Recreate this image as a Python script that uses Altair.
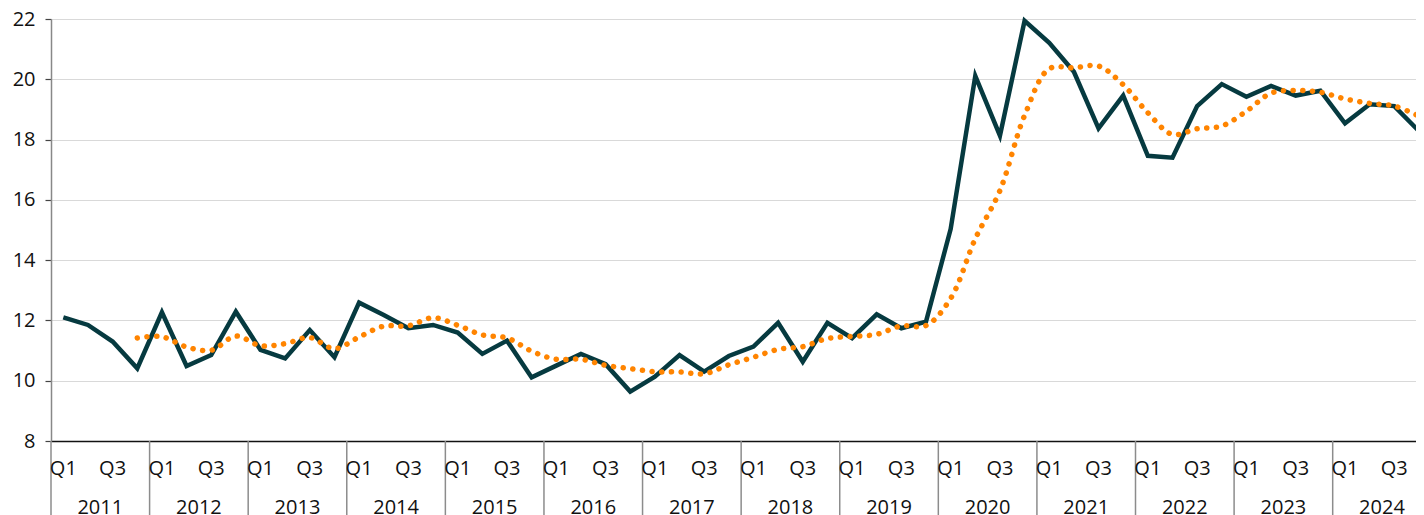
import altair as alt
import pandas as pd

years = [str(y) for y in range(2011, 2025)]
quarter_labels = ["Q1", "", "Q3", ""]

quarterly = [12.10, 11.85, 11.30, 10.41, 12.27, 10.49, 10.85, 12.29, 11.02, 10.74,
             11.68, 10.78, 12.59, 12.18, 11.74, 11.85, 11.60, 10.89, 11.33, 10.11,
             10.50, 10.89, 10.55, 9.64, 10.13, 10.85, 10.30, 10.82, 11.13, 11.92,
             10.63, 11.92, 11.41, 12.20, 11.74, 11.96, 15.03, 20.11, 18.13, 21.94,
             21.21, 20.25, 18.37, 19.46, 17.46, 17.40, 19.11, 19.84, 19.42, 19.78,
             19.46, 19.62, 18.54, 19.17, 19.11, 18.28]

avg4 = [None, None, None, 11.42, 11.46, 11.12, 11.01, 11.48, 11.16, 11.23,
        11.43, 11.06, 11.45, 11.81, 11.82, 12.09, 11.84, 11.52, 11.42, 10.98,
        10.71, 10.71, 10.51, 10.40, 10.30, 10.29, 10.23, 10.53, 10.78, 11.04,
        11.13, 11.40, 11.47, 11.54, 11.82, 11.83, 12.73, 14.71, 16.31, 18.80,
        20.35, 20.38, 20.44, 19.82, 18.89, 18.17, 18.36, 18.45, 18.94, 19.54,
        19.63, 19.57, 19.35, 19.20, 19.11, 18.78]

y_ticks = [8, 10, 12, 14, 16, 18, 20, 22]

n = len(quarterly)
df = pd.DataFrame({"i": list(range(n)), "q": quarterly, "a": avg4})
df_avg = df.dropna(subset=["a"])

qlab = pd.DataFrame({"i": list(range(n)),
                     "lab": [quarter_labels[k % 4] for k in range(n)]})
qlab = qlab[qlab["lab"] != ""]
ylab = pd.DataFrame({"c": [4 * k + 1.5 for k in range(len(years))], "lab": years})
seps = pd.DataFrame({"s": [4 * k - 0.5 for k in range(len(years) + 1)]})

xscale = alt.Scale(domain=[-0.5, 54.88], nice=False, zero=False)
yscale = alt.Scale(domain=[8, 22], nice=False, zero=False)

FONT = "Open Sans"

base_line = alt.Chart(df).mark_line(color="#063a40", strokeWidth=4.5, strokeJoin="miter").encode(
    x=alt.X("i:Q", scale=xscale,
            axis=alt.Axis(labels=False, ticks=False, grid=False, title=None,
                          domainColor="#111111", domainWidth=1.5)),
    y=alt.Y("q:Q", scale=yscale,
            axis=alt.Axis(values=y_ticks, title=None, grid=True, gridColor="#d9d9d9",
                          gridWidth=1, domainColor="#888888", domainWidth=1.5,
                          tickColor="#444444", tickSize=6, tickWidth=1.2,
                          labelFontSize=20, labelFont=FONT, labelColor="#111111",
                          labelPadding=10)),
)

avg_line = alt.Chart(df_avg).mark_line(color="#ff8400", strokeWidth=5.5, strokeCap="round",
                                       strokeDash=[0.1, 9.6], interpolate="catmull-rom").encode(
    x=alt.X("i:Q", scale=xscale),
    y=alt.Y("a:Q", scale=yscale),
)

sep_rules = alt.Chart(seps).mark_rule(color="#8c8c8c", strokeWidth=1.5).encode(
    x=alt.X("s:Q", scale=xscale),
    y=alt.value(422),
    y2=alt.value(500),
)

q_text = alt.Chart(qlab).mark_text(fontSize=20, font=FONT, color="#111111",
                                   baseline="middle", align="center").encode(
    x=alt.X("i:Q", scale=xscale),
    y=alt.value(449.5),
    text="lab:N",
)

y_text = alt.Chart(ylab).mark_text(fontSize=20, font=FONT, color="#111111",
                                   baseline="middle", align="center").encode(
    x=alt.X("c:Q", scale=xscale),
    y=alt.value(489),
    text="lab:N",
)

chart = alt.layer(sep_rules, base_line, avg_line, q_text, y_text).properties(
    width=1365, height=422,
    autosize=alt.AutoSizeParams(type="none"),
    padding={"left": 43, "top": 11, "right": 0, "bottom": 74},
).configure_view(stroke=None).configure(background="white")

chart.save("out.html", embed_options={"renderer": "svg", "actions": False})
